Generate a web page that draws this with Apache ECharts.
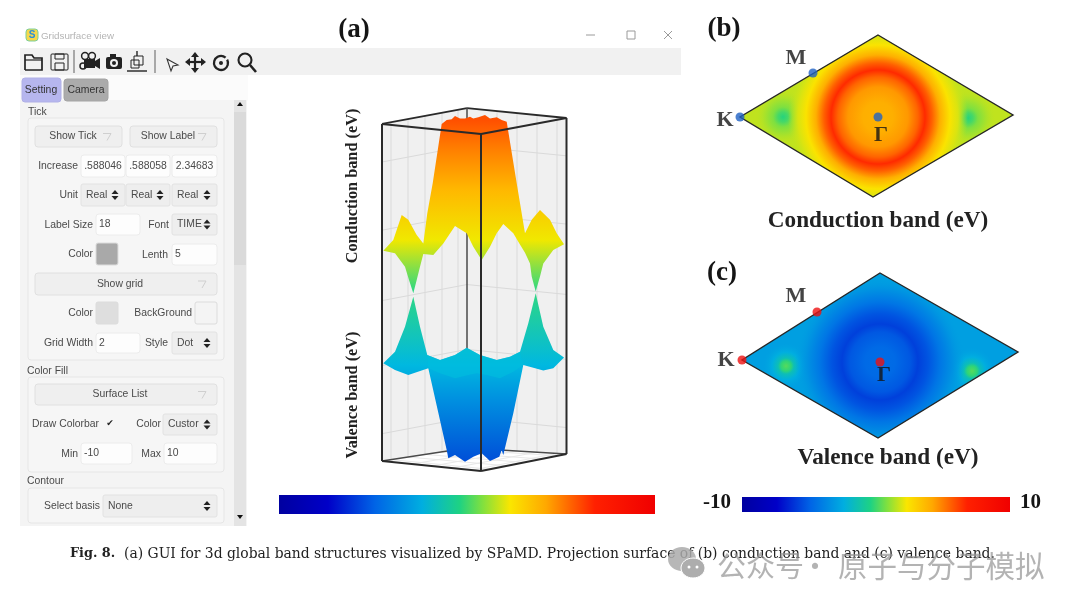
<!DOCTYPE html>
<html><head><meta charset="utf-8">
<style>html,body{margin:0;background:#fff}#c{width:1080px;height:607px;filter:blur(0.4px)}</style>
<script src="https://cdn.jsdelivr.net/npm/echarts@6/dist/echarts.min.js"></script>
</head><body><div id="c"></div>
<script>
// ---------- data ----------
const jetPos = [0,.13,.255,.38,.48,.54,.615,.71,.84,1];
const jetHex = ['#0000a0','#0000c8','#0064e6','#00aee0','#1ed283','#7ee040','#fae600','#ffa800','#ff2000','#f00000'];
const barRange = [-10,10];
// colours seen on the 3D surfaces at each energy
const surfaceV = [-8.05,-5.3,-3.73,-0.32,0.82,1.95,4.23,6.05,7.4];
const surfaceHex = ['#0050d8','#0090e0','#00b8e0','#30d880','#90e040','#f0e800','#ffb800','#ff8000','#ff5000'];
// 3D silhouettes [k, energy eV]
const conductionSurface = [[0.3,1.47],[10.3,1.95],[18.7,3.09],[25.3,2.87],[33.7,2.18],[40.3,1.8],[44.3,3.17],[49.7,4.53],[58.7,7.23],[63.7,7.41],[68.7,7.44],[72,7.59],[77,7.48],[82,7.48],[87,7.56],[90.3,7.48],[95.3,7.53],[102,7.64],[107,7.48],[113.7,7.53],[118.7,7.41],[123.7,7.33],[133.7,4.53],[142,2.26],[148.7,2.87],[157,3.32],[167,2.87],[173.7,2.26],[181,1.76],[170.3,1.5],[160.3,.89],[157,.29],[152.7,-.39],[148.7,.29],[147,.89],[142,1.38],[135.3,1.88],[130.3,2.26],[120.3,2.68],[113.7,2.26],[107,1.65],[98.7,1.05],[90.3,1.65],[83.7,2.26],[72,2.59],[60.3,1.8],[50.3,1.27],[40.3,1.32],[37,.74],[33.7,.14],[30.3,-.47],[26,.14],[22,.74],[12,1.35]];
const valenceSurface = [[0.3,-3.65],[12,-3.12],[22,-1.99],[30.3,-.62],[37,-1.99],[44.3,-3.27],[57,-3.5],[72,-3.27],[83.7,-2.94],[97,-3.27],[113.7,-3.5],[127,-3.35],[137,-3.12],[145.3,-1.83],[152.7,-.47],[160.3,-1.99],[170.3,-3.05],[181,-3.39],[170.3,-3.88],[160.3,-3.98],[140.3,-3.73],[130.3,-5.92],[120.3,-7.82],[118.7,-7.59],[116.3,-7.9],[107,-8.09],[98.7,-7.74],[90.3,-7.9],[82,-8.12],[72,-7.82],[65.3,-7.97],[63.7,-7.59],[45.3,-3.88],[25.3,-4.18],[12,-3.95]];
const valenceFold = [[44.3,-3.27],[57,-3.5],[72,-3.27],[83.7,-2.94],[97,-3.27],[113.7,-3.5],[127,-3.35],[137,-3.12],[140.3,-3.73],[130.3,-4.03],[117,-4.33],[103.7,-4.18],[93.7,-4.1],[85.3,-4.18],[72,-4.33],[57,-4.1],[45.3,-3.88]];
// 3D box corners
const boxTop = [[-1,7.23],[84,7.95],[183.5,7.5],[98,6.77]];
const boxBottom = [[-1,-8.09],[84,-7.5],[183.5,-7.77],[98,-8.55]];
const leftWallTicks = [8,25,42,59,75];
const rightWallTicks = [114,134,154,174];
const wallLevels = [5.5,2.4,-0.8,-3.75,-6.85];
// projected Brillouin zones
const zoneB = [[0,82],[135,2],[-5,-80],[-138,0]];
const zoneC = [[0,89],[138,10],[-2,-76],[-138,2]];
const condRingR = [0,15,30,40,47,54,62,72,80,90];
const condRingV = [3.9,4.0,4.5,5.5,6.6,5.6,4.0,2.4,1.9,1.6];
const condSpotR = [0,5,10,18,28];
const condSpotV = [-0.3,0.1,0.8,1.3,1.6];
const condSpots = [[-95,0],[90,-1]];
const valRingR = [0,15,30,38,48,60,72,85];
const valRingV = [-4.6,-4.7,-5.2,-5.8,-5.3,-4.3,-3.4,-2.9];
const valSpotR = [0,5,8,14,24];
const valSpotV = [0.3,-0.2,-1.5,-2.4,-2.9];
const valSpots = [[-94,-4],[92,-9]];
const pointsB = [['M',-65,44],['K',-138,0],['Γ',0,0]];
const pointsC = [['M',-63,50],['K',-138,2],['Γ',0,0]];

// ---------- helpers ----------
const jetRgb = jetHex.map(h=>[1,3,5].map(i=>parseInt(h.substr(i,2),16)));
function jet(v,a){
  const t=Math.max(0,Math.min(1,(v+10)/20));
  let i=0; while(i<jetPos.length-2 && t>jetPos[i+1]) i++;
  const f=(t-jetPos[i])/(jetPos[i+1]-jetPos[i]);
  const c=jetRgb[i].map((x,k)=>Math.round(x+(jetRgb[i+1][k]-x)*f));
  return `rgba(${c[0]},${c[1]},${c[2]},${a==null?1:a})`;
}
const jetStops = jetPos.map((p,i)=>({offset:p,color:jetHex[i]}));
function poly(name,grid,pts,styleFn,z){
  return {type:'custom',name,xAxisIndex:grid,yAxisIndex:grid,coordinateSystem:'cartesian2d',clip:false,z:z||2,silent:true,
    data:pts,encode:{x:0,y:1},
    renderItem(p,api){
      if(p.dataIndex!==0) return null;
      return {type:'polygon',shape:{points:pts.map(q=>api.coord(q))},style:styleFn(api)};
    }};
}
function segs(name,grid,rows,style,z){
  return {type:'custom',name,xAxisIndex:grid,yAxisIndex:grid,clip:false,z,silent:true,data:rows,encode:{x:[0,2],y:[1,3]},
    renderItem(p,api){
      const a=api.coord([api.value(0),api.value(1)]),b=api.coord([api.value(2),api.value(3)]);
      return {type:'line',shape:{x1:a[0],y1:a[1],x2:b[0],y2:b[1]},style:Object.assign({fill:null},style)};
    }};
}
function energyFill(api){
  const lo=surfaceV[0],hi=surfaceV[surfaceV.length-1];
  const a=api.coord([0,lo]),b=api.coord([0,hi]);
  return {type:'linear',x:0,y:a[1],x2:0,y2:b[1],global:true,
    colorStops:surfaceV.map((v,i)=>({offset:(v-lo)/(hi-lo),color:surfaceHex[i]}))};
}
function radial(api,c,rs,vs,fadeLast){
  const o=api.coord(c), R=rs[rs.length-1];
  const k=api.size([1,1])[0];
  return {type:'radial',x:o[0],y:o[1],r:R*k,global:true,
    colorStops:rs.map((r,i)=>({offset:r/R,color:jet(vs[i],(fadeLast&&i===rs.length-1)?0:1)}))};
}
function zone(grid,name,corners,baseV,ringR,ringV,spots,spotR,spotV){
  const s=[poly(name+' base',grid,corners,()=>({fill:jet(baseV)}),2)];
  spots.forEach((c,i)=>s.push(poly(name+' valley '+i,grid,corners,api=>({fill:radial(api,c,spotR,spotV,true)}),3)));
  s.push(poly(name+' ring',grid,corners,api=>({fill:radial(api,[0,0],ringR,ringV,true)}),4));
  s.push(poly(name+' edge',grid,corners,()=>({fill:'none',stroke:'#262626',lineWidth:1.4,lineJoin:'miter'}),5));
  return s;
}
function marks(grid,name,rows,color,cfg){
  return {type:'scatter',name,xAxisIndex:grid,yAxisIndex:grid,z:8,symbolSize:9,silent:true,
    itemStyle:{color},
    data:rows.map((r,i)=>({value:[r[1],r[2]],name:r[0],label:{show:true,formatter:r[0],position:'inside',offset:cfg[i],
      color:'#151515',fontFamily:'Liberation Serif',fontWeight:'bold',fontSize:22}}))};
}
function colorBar(grid,name){
  return {type:'custom',name,xAxisIndex:grid,yAxisIndex:grid,z:2,clip:false,silent:true,data:[[barRange[0],0,barRange[1],1]],encode:{x:[0,2],y:[1,3]},
    renderItem(p,api){
      const a=api.coord([api.value(0),api.value(3)]),b=api.coord([api.value(2),api.value(1)]);
      return {type:'rect',shape:{x:a[0],y:a[1],width:b[0]-a[0],height:b[1]-a[1]},
        style:{fill:{type:'linear',x:0,y:0,x2:1,y2:0,colorStops:jetStops}}};
    }};
}
// box + wall furniture
const [tL,tB,tR,tF]=boxTop,[bL,bB,bR,bF]=boxBottom;
const wallRows=[],floorRows=[];
leftWallTicks.forEach(u=>{const f=(u-tL[0])/(tB[0]-tL[0]);
  wallRows.push([u,tL[1]+(tB[1]-tL[1])*f,u,bL[1]+(bB[1]-bL[1])*f]);
  floorRows.push([u,bL[1]+(bB[1]-bL[1])*f,u+99,bF[1]+(bR[1]-bF[1])*f]);});
rightWallTicks.forEach(u=>{const f=(u-tB[0])/(tR[0]-tB[0]);
  wallRows.push([u,tB[1]+(tR[1]-tB[1])*f,u,bB[1]+(bR[1]-bB[1])*f]);
  floorRows.push([u,bB[1]+(bR[1]-bB[1])*f,u-85,bL[1]+(bF[1]-bL[1])*f]);});
wallLevels.forEach(v=>{wallRows.push([tL[0],v,tB[0],v+.73]);wallRows.push([tB[0],v+.73,tR[0],v+.28]);});
const backEdges=[[tL[0],tL[1],tB[0],tB[1]],[tB[0],tB[1],tR[0],tR[1]]];
const backPost=[[tB[0],tB[1],bB[0],bB[1]],[bL[0],bL[1],bB[0],bB[1]],[bB[0],bB[1],bR[0],bR[1]]];
const frontEdges=[[tL[0],tL[1],tF[0],tF[1]],[tF[0],tF[1],tR[0],tR[1]],[tL[0],tL[1],bL[0],bL[1]],[tR[0],tR[1],bR[0],bR[1]],[tF[0],tF[1],bF[0],bF[1]],[bL[0],bL[1],bF[0],bF[1]],[bF[0],bF[1],bR[0],bR[1]]];

const series=[
  poly('left wall',0,[tL,tB,bB,bL],()=>({fill:'#f0f0f0'}),1),
  poly('right wall',0,[tB,tR,bR,bB],()=>({fill:'#f0f0f0'}),1),
  segs('floor grid',0,floorRows,{stroke:'#e8e8e8',lineWidth:1},2),
  segs('wall grid',0,wallRows,{stroke:'#dadada',lineWidth:1},2),
  segs('back edges',0,backEdges,{stroke:'#2a2a2a',lineWidth:1.9},3),
  segs('back post',0,backPost,{stroke:'#4a4a4a',lineWidth:1.5},3),
  poly('Valence band',0,valenceSurface,api=>({fill:energyFill(api)}),4),
  poly('Valence fold',0,valenceFold,()=>({fill:'rgba(0,190,222,0.6)'}),5),
  poly('Conduction band',0,conductionSurface,api=>({fill:energyFill(api)}),4),
  segs('front edges',0,frontEdges,{stroke:'#2a2a2a',lineWidth:2},6),
  ...zone(1,'Conduction zone',zoneB,1.6,condRingR,condRingV,condSpots,condSpotR,condSpotV),
  marks(1,'Points b',pointsB,'#1f62c4',[[-17,-15],[-15,3],[3,18]]),
  ...zone(2,'Valence zone',zoneC,-2.9,valRingR,valRingV,valSpots,valSpotR,valSpotV),
  marks(2,'Points c',pointsC,'#ee1111',[[-21,-16],[-16,0],[4,13]]),
  colorBar(3,'bar a'),
  colorBar(4,'bar c')
];
const grids=[
 {left:373,top:63,width:200,height:440},
 {left:728,top:27,width:300,height:180},
 {left:730,top:273,width:300,height:178},
 {left:279,top:495,width:376,height:19},
 {left:742,top:497,width:268,height:15}
];
const xAxes=[[-10,190],[-150,150],[-150,150],barRange,barRange].map((r,i)=>({type:'value',gridIndex:i,min:r[0],max:r[1],show:false}));
const yAxes=[[-10,10],[-90,90],[-89,89],[0,1],[0,1]].map((r,i)=>({type:'value',gridIndex:i,min:r[0],max:r[1],show:false}));

// ---------- GUI furniture (graphic elements) ----------
const G=[];
const UI='10.4px "Liberation Sans"';
const R=(x,y,w,h,fill,stroke,r)=>G.push({type:'rect',silent:true,shape:{x,y,width:w,height:h,r:r||0},style:{fill:fill||'none',stroke:stroke||'none',lineWidth:1}});
const T=(x,y,text,o)=>{o=o||{};G.push({type:'text',silent:true,x,y,rotation:o.rot||0,style:{text,fill:o.fill||'#4a4a4a',font:o.font||UI,textAlign:o.align||'left',textVerticalAlign:'middle'}});};
const L=(pts,stroke,w,fill)=>G.push({type:fill?'polygon':'polyline',silent:true,shape:{points:pts},style:{fill:fill||'none',stroke:stroke||'none',lineWidth:w||1}});
const C=(cx,cy,r,fill,stroke,w)=>G.push({type:'circle',silent:true,shape:{cx,cy,r},style:{fill:fill||'none',stroke:stroke||'none',lineWidth:w||1}});
// title bar
R(26,29,12,12,'#f6d84a','#7ccf9a',3); T(32,35,'S',{fill:'#2b8fd8',font:'bold 10px "Liberation Sans"',align:'center'});
T(41,36,'Gridsurface view',{fill:'#b4b4b4',font:'9.8px "Liberation Sans"'});
L([[586,35],[595,35]],'#9a9a9a',1); R(627,31,8,8,null,'#9a9a9a'); L([[664,31],[672,39]],'#9a9a9a',1); L([[672,31],[664,39]],'#9a9a9a',1);
R(20,48,661,27,'#f1f1f1');
R(20,75,228,26,'#fbfbfb');
// toolbar icons
const ink='#222';
L([[25,70],[25,55],[32,55],[34,58],[42,58],[42,70],[25,70]],ink,1.7); L([[25,60],[42,60]],ink,1.2);
R(51,54,17,16,null,ink,1); R(55,63,9,7,null,ink); R(55,54,9,5,null,ink);
R(84,59,11,9,ink); C(85,56,3.4,null,ink,1.5); C(92,56,3.4,null,ink,1.5); L([[95,61],[100,58],[100,69],[95,66]],null,1,ink); C(83,66,3,null,ink,1.5);
R(106,57,16,12,ink,null,2); R(110,54,6,3,ink); C(114,63,4,'#f1f1f1'); C(114,63,2,ink);
R(134,56,9,9,null,ink); R(131,60,8,8,null,ink); L([[127,71],[147,71]],ink,1.4); L([[137,51],[137,56]],ink,1.4);
L([[74,50],[74,73]],'#a8a8a8',2); L([[155,50],[155,73]],'#a8a8a8',2);
L([[167,59],[178,65],[173,66],[171,71]],'#333',1.1,'#f4f4f4');
L([[195,54],[195,71]],ink,2.2); L([[187,62],[204,62]],ink,2.2);
L([[195,52],[191,57],[199,57]],null,1,ink); L([[195,73],[191,68],[199,68]],null,1,ink); L([[185,62],[190,58],[190,66]],null,1,ink); L([[206,62],[201,58],[201,66]],null,1,ink);
G.push({type:'arc',silent:true,shape:{cx:221,cy:63,r:7,startAngle:-0.5,endAngle:-0.2+Math.PI*1.95-0.5,clockwise:true},style:{fill:'none',stroke:ink,lineWidth:2.3}}); C(221,63,2,ink);
C(245,60,6.5,null,ink,2.1); L([[250,65],[256,72]],ink,2.6);
// tabs + panel
R(20,100,227,426,'#f4f4f4');
R(22,78,39,24,'#b6b6ee','#b0b0e6',3); T(41,90,'Setting',{align:'center',fill:'#333'});
R(64,79,44,22,'#ababab','#a4a4a4',3); T(86,90,'Camera',{align:'center',fill:'#333'});
R(234,100,12,426,'#e4e4e4'); R(234,112,12,153,'#dadada');
L([[240,102],[237,106],[243,106]],null,1,'#111'); L([[240,519],[237,515],[243,515]],null,1,'#111');
// groups
T(28,112,'Tick'); T(27,371,'Color Fill'); T(27,481,'Contour');
R(28,118,196,242,'#f6f6f6','#e6e6e6',3); R(28,377,196,95,'#f6f6f6','#e6e6e6',3); R(28,488,196,35,'#f6f6f6','#e6e6e6',3);
const btnFill='#efefef',btnEdge='#e0e0e0',inFill='#fdfdfd';
function button(x,y,w,h,text,tx){R(x,y,w,h,btnFill,btnEdge,3);T(tx,y+h/2,text,{align:'center'});L([[x+w-19,y+h/2-3],[x+w-11,y+h/2-3],[x+w-15,y+h/2+4]],'#cfcfcf',1);}
function input(x,y,w,h,text,align){R(x,y,w,h,inFill,'#ececec',3);T(align==='c'?x+w/2:x+3,y+h/2,text,{align:align==='c'?'center':'left'});}
function select(x,y,w,h,text){R(x,y,w,h,'#eeeeee','#e2e2e2',2);T(x+5,y+h/2,text);const a=x+w-10,m=y+h/2;L([[a-3.5,m-1],[a+3.5,m-1],[a,m-5]],null,1,'#222');L([[a-3.5,m+1],[a+3.5,m+1],[a,m+5]],null,1,'#222');}
function swatch(x,y,w,h,c){R(x,y,w,h,c,'#dcdcdc',2);}
const lab=(x,y,t)=>T(x,y,t,{align:'right'});
button(35,126,87,21,'Show Tick',73); button(130,126,87,21,'Show Label',168);
lab(78,166,'Increase'); input(81,155,44,22,'.588046','c'); input(126,155,44,22,'.588058','c'); input(172,155,45,22,'2.34683','c');
lab(78,195,'Unit'); select(81,184,44,22,'Real'); select(126,184,44,22,'Real'); select(172,184,45,22,'Real');
lab(93,225,'Label Size'); input(96,214,44,21,'18'); lab(169,225,'Font'); select(172,214,45,21,'TIME');
lab(93,254,'Color'); swatch(96,243,22,22,'#a9a9a9'); lab(168,255,'Lenth'); input(172,244,45,21,'5');
button(35,273,182,22,'Show grid',120);
lab(93,313,'Color'); swatch(96,302,22,22,'#dedede'); lab(192,313,'BackGround'); swatch(195,302,22,22,'#f4f4f4');
lab(93,343,'Grid Width'); input(96,333,44,20,'2'); lab(168,343,'Style'); select(172,332,45,22,'Dot');
button(35,384,182,21,'Surface List',120);
T(32,424,'Draw Colorbar'); T(110,424,'✔',{align:'center',fill:'#222',font:'9px "DejaVu Sans"'}); lab(161,424,'Color'); select(163,414,54,21,'Custor');
lab(78,454,'Min'); input(81,443,51,21,'-10'); lab(161,454,'Max'); input(164,443,53,21,'10');
lab(100,506,'Select basis'); select(103,495,114,22,'None');
// headings and captions
const serifB=s=>`bold ${s}px "Liberation Serif"`;
T(354,30,'(a)',{font:serifB(27),align:'center',fill:'#151515'});
T(724,29,'(b)',{font:serifB(27),align:'center',fill:'#151515'});
T(722,273,'(c)',{font:serifB(27),align:'center',fill:'#151515'});
T(878,221,'Conduction band (eV)',{font:serifB(23.2),align:'center',fill:'#222'});
T(888,458,'Valence band (eV)',{font:serifB(23.2),align:'center',fill:'#222'});
T(353,186,'Conduction band (eV)',{font:serifB(16.3),align:'center',rot:Math.PI/2,fill:'#222'});
T(353,395,'Valence band (eV)',{font:serifB(16.3),align:'center',rot:Math.PI/2,fill:'#222'});
T(731,503,'-10',{font:serifB(21),align:'right',fill:'#151515'});
T(1020,503,'10',{font:serifB(21),fill:'#151515'});
T(70,554,'Fig. 8.',{font:'bold 12.8px "DejaVu Serif"',fill:'#222'});
T(124,554,'(a) GUI for 3d global band structures visualized by SPaMD. Projection surface of (b) conduction band and (c) valence band.',{font:'13.9px "DejaVu Serif"',fill:'#222'});
// watermark
const wm='rgba(150,150,150,0.72)';
G.push({type:'ellipse',silent:true,shape:{cx:682,cy:559,rx:14,ry:12},style:{fill:'rgba(170,170,170,.85)'}});
G.push({type:'ellipse',silent:true,shape:{cx:693,cy:568,rx:12,ry:10},style:{fill:'#adadad',stroke:'#fff',lineWidth:1}});
C(689,567,1.5,'#fff'); C(697,567,1.5,'#fff');
T(717,566,'公众号',{font:'29px "Noto Sans CJK SC"',fill:wm});
T(815,566,'·',{font:'29px "Noto Sans CJK SC"',fill:wm,align:'center'});
T(838,566,'原子与分子模拟',{font:'29.5px "Noto Sans CJK SC"',fill:wm});

const chart=echarts.init(document.getElementById('c'),null,{renderer:'canvas'});
chart.setOption({animation:false,backgroundColor:'#fff',grid:grids,xAxis:xAxes,yAxis:yAxes,series,graphic:{elements:G}});
</script></body></html>
